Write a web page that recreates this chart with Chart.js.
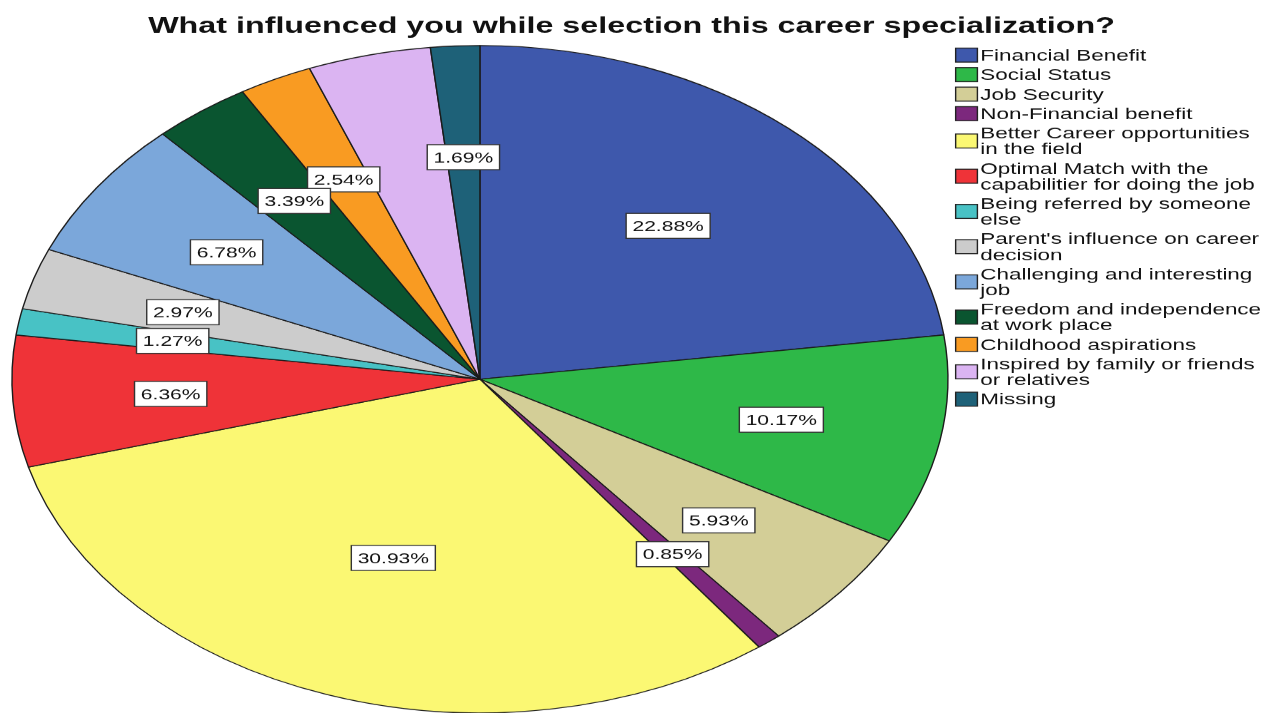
<!DOCTYPE html>
<html>
<head>
<meta charset="utf-8">
<title>Career specialization influences</title>
<script src="https://cdn.jsdelivr.net/npm/chart.js@4.4.0/dist/chart.umd.min.js"></script>
<style>
  html, body { margin: 0; padding: 0; background: #fff; overflow: hidden; }
  #chart { display: block; }
</style>
</head>
<body>
<canvas id="chart" width="905" height="713" style="width:1270px;height:713px"></canvas>
<script>
// Data
const chartTitle = 'What influenced you while selection this career specialization?';
const categories = [
  'Financial Benefit',
  'Social Status',
  'Job Security',
  'Non-Financial benefit',
  'Better Career opportunities in the field',
  'Optimal Match with the capabilitier for doing the job',
  'Being referred by someone else',
  "Parent's influence on career decision",
  'Challenging and interesting job',
  'Freedom and independence at work place',
  'Childhood aspirations',
  'Inspired by family or friends or relatives',
  'Missing'
];
const percentages = [22.88, 10.17, 5.93, 0.85, 30.93, 6.36, 1.27, 2.97, 6.78, 3.39, 2.54, 4.24, 1.69];
// the reference shows no value label on the "Inspired..." slice
const labelShown = [true, true, true, true, true, true, true, true, true, true, true, false, true];
const sliceColors = [
  '#3E58AC', '#2EB848', '#D3CE97', '#7C287D', '#FBF873', '#EF3338', '#48C2C5',
  '#CCCCCC', '#7BA7DA', '#0A5530', '#F99B22', '#DBB4F2', '#1E6178'
];

// The original picture is stretched sideways; draw in a narrower space and
// let the canvas bitmap be stretched to the full window width.
const STRETCH = 1270 / 905;
const FONT = '"Liberation Sans", Arial, sans-serif';

function wrapText(ctx, text, maxWidth) {
  const words = text.split(' ');
  const lines = [];
  let line = '';
  words.forEach(word => {
    const test = line ? line + ' ' + word : word;
    if (line && ctx.measureText(test).width > maxWidth) {
      lines.push(line);
      line = word;
    } else {
      line = test;
    }
  });
  if (line) lines.push(line);
  return lines;
}

// Title centred over the whole picture (not just the pie area)
const pageTitle = {
  id: 'pageTitle',
  afterDraw(chart) {
    const ctx = chart.ctx;
    ctx.save();
    ctx.font = 'bold 23px ' + FONT;
    ctx.fillStyle = '#111111';
    ctx.textAlign = 'center';
    ctx.textBaseline = 'alphabetic';
    ctx.fillText(chartTitle, 450, 32.5);
    ctx.restore();
  }
};

// Percentage boxes placed at each slice's centroid
const valueLabels = {
  id: 'valueLabels',
  afterDatasetsDraw(chart) {
    const ctx = chart.ctx;
    const meta = chart.getDatasetMeta(0);
    ctx.save();
    ctx.font = '15px ' + FONT;
    ctx.textAlign = 'center';
    ctx.textBaseline = 'middle';
    for (let i = meta.data.length - 1; i >= 0; i--) {
      if (!labelShown[i]) continue;
      const arc = meta.data[i];
      const p = arc.getProps(['x', 'y', 'startAngle', 'endAngle', 'outerRadius'], true);
      const half = (p.endAngle - p.startAngle) / 2;
      const mid = p.startAngle + half;
      const f = (2 / 3) * Math.sin(half) / half;
      const px = p.x + Math.cos(mid) * p.outerRadius * f;
      const py = p.y + Math.sin(mid) * p.outerRadius * f;
      const text = percentages[i].toFixed(2) + '%';
      const w = ctx.measureText(text).width + 9;
      const h = 25;
      ctx.fillStyle = '#ffffff';
      ctx.fillRect(px - w / 2, py - h / 2, w, h);
      ctx.strokeStyle = '#333333';
      ctx.lineWidth = 1;
      ctx.strokeRect(px - w / 2, py - h / 2, w, h);
      ctx.fillStyle = '#111111';
      ctx.fillText(text, px, py + 1);
    }
    ctx.restore();
  }
};

// Legend on the right, with wrapped two-line entries
const sideLegend = {
  id: 'sideLegend',
  afterDraw(chart) {
    const ctx = chart.ctx;
    const boxX = 681, boxW = 15.5, boxH = 14;
    const textX = 698.5;
    const lineH = 15.7, gap = 3.8;
    ctx.save();
    ctx.font = '16px ' + FONT;
    ctx.textBaseline = 'middle';
    ctx.textAlign = 'left';
    const maxW = chart.width - textX - 1;
    let y = 48.2;
    categories.forEach((name, i) => {
      const lines = wrapText(ctx, name, maxW);
      const h = lines.length * lineH;
      const sy = y + h / 2 - boxH / 2 - 1;
      ctx.fillStyle = sliceColors[i];
      ctx.fillRect(boxX, sy, boxW, boxH);
      ctx.strokeStyle = '#222222';
      ctx.lineWidth = 1;
      ctx.strokeRect(boxX, sy, boxW, boxH);
      ctx.fillStyle = '#111111';
      lines.forEach((ln, k) => ctx.fillText(ln, textX, y + lineH * k + lineH / 2));
      y += h + gap;
    });
    ctx.restore();
  }
};

const ctx = document.getElementById('chart').getContext('2d');
const chart = new Chart(ctx, {
  type: 'pie',
  data: {
    labels: categories,
    datasets: [{
      data: percentages,
      backgroundColor: sliceColors,
      borderColor: '#1b1b1b',
      borderWidth: 1,
      hoverOffset: 0,
      offset: 0
    }]
  },
  options: {
    responsive: false,
    devicePixelRatio: STRETCH,
    animation: false,
    events: [],
    layout: {
      padding: { left: 7, right: 228, top: 45, bottom: 0 }
    },
    plugins: {
      legend: { display: false },
      tooltip: { enabled: false },
      title: { display: false }
    }
  },
  plugins: [valueLabels, sideLegend, pageTitle]
});
</script>
</body>
</html>
